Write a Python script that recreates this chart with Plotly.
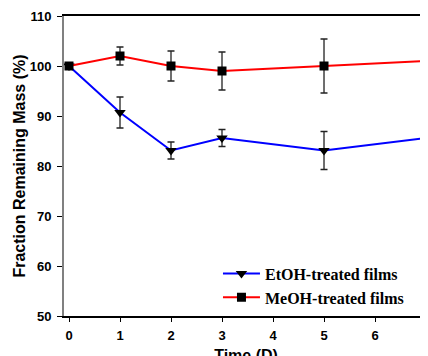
import plotly.graph_objects as go

days = [0, 1, 2, 3, 5, 7]
etoh = [100, 90.7, 83.1, 85.6, 83.1, 85.6]
etoh_err = [0, 3.1, 1.7, 1.7, 3.8, 1.8]
meoh = [100, 102.0, 100.0, 99.0, 100.0, 101.0]
meoh_err = [0, 1.8, 3.0, 3.8, 5.4, 4.7]
x_ticks = [0, 1, 2, 3, 4, 5, 6, 7]
y_ticks = [50, 60, 70, 80, 90, 100, 110]

err_style = dict(type="data", visible=True, color="#222222", thickness=1.3, width=3.5)

fig = go.Figure()
fig.add_trace(go.Scatter(
    x=days, y=etoh, name="EtOH-treated films", mode="lines+markers",
    line=dict(color="#0000ff", width=2),
    marker=dict(symbol="triangle-down", size=10, color="black"),
    error_y=dict(array=etoh_err, **err_style),
))
fig.add_trace(go.Scatter(
    x=days, y=meoh, name="MeOH-treated films", mode="lines+markers",
    line=dict(color="#ff0000", width=2),
    marker=dict(symbol="square", size=9, color="black"),
    error_y=dict(array=meoh_err, **err_style),
))

tick_font = dict(family="Liberation Sans, Arial, sans-serif", size=13, color="black", weight="bold")
title_font = dict(family="Liberation Sans, Arial, sans-serif", size=16, color="black", weight="bold")

fig.update_layout(
    width=420, height=356,
    margin=dict(l=56, r=0, t=8, b=48, autoexpand=False),
    paper_bgcolor="white", plot_bgcolor="white",
    showlegend=True,
    legend=dict(
        x=0.423, y=0.198, xanchor="left", yanchor="top",
        bgcolor="rgba(0,0,0,0)", borderwidth=0,
        font=dict(family="Liberation Serif, Times New Roman, serif", size=16, color="black", weight="bold"),
        tracegroupgap=0, itemwidth=37,
    ),
    xaxis=dict(
        range=[-0.098, 7.039], tickvals=x_ticks, ticktext=[str(v) for v in x_ticks],
        showline=True, linecolor="black", linewidth=1.5, mirror=True,
        ticks="outside", ticklen=4, tickwidth=1, tickcolor="black",
        showgrid=False, zeroline=False, tickfont=tick_font,
        automargin=False, ticklabeloverflow="allow", ticklabelstandoff=3,
        title=dict(text="Time (D)", font=title_font, standoff=9),
    ),
    yaxis=dict(
        range=[50, 110], tickvals=y_ticks, ticktext=[str(v) for v in y_ticks],
        showline=True, linecolor="#808080", linewidth=2,
        ticks="outside", ticklen=5, tickwidth=1, tickcolor="black",
        showgrid=False, zeroline=False, tickfont=tick_font,
        automargin=False, ticklabeloverflow="allow", ticklabelstandoff=3,
        title=dict(text="Fraction Remaining Mass (%)", font=title_font, standoff=0),
    ),
)

fig.write_html("out.html")
